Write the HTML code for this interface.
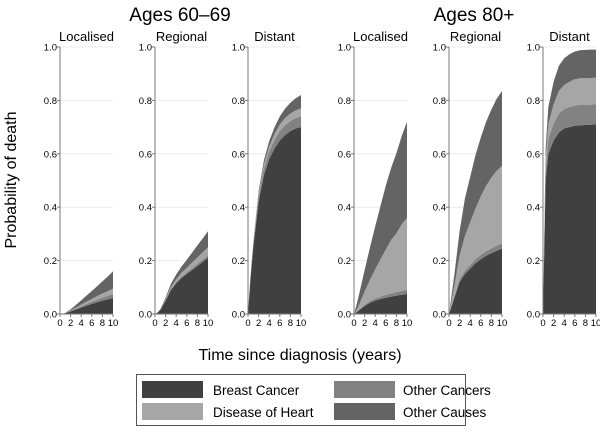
<!DOCTYPE html>
<html><head><meta charset="utf-8"><style>
body{margin:0;background:#fff;font-family:"Liberation Sans",Arial,sans-serif}
svg text{font-family:"Liberation Sans",Arial,sans-serif;fill:#000}
</style></head><body>
<svg id="chart" width="600" height="427" viewBox="0 0 600 427" xmlns="http://www.w3.org/2000/svg">
<text x="180" y="21" font-size="19" text-anchor="middle">Ages 60–69</text>
<text x="474" y="21" font-size="19" text-anchor="middle">Ages 80+</text>
<text transform="translate(16,180) rotate(-90)" font-size="16" text-anchor="middle">Probability of death</text>
<text x="300" y="360" font-size="16" text-anchor="middle">Time since diagnosis (years)</text>
<g id="panels"></g>
<g>
<rect x="136.5" y="374.5" width="329" height="51" fill="#fff" stroke="#555" stroke-width="1"/>
<rect x="142" y="381" width="61" height="17" fill="#404040"/>
<text x="213" y="395" font-size="13.5">Breast Cancer</text>
<rect x="142" y="403" width="61" height="17" fill="#a6a6a6"/>
<text x="213" y="417" font-size="13.5">Disease of Heart</text>
<rect x="334" y="381" width="61" height="17" fill="#828282"/>
<text x="403" y="395" font-size="13.5">Other Cancers</text>
<rect x="334" y="403" width="61" height="17" fill="#646464"/>
<text x="403" y="417" font-size="13.5">Other Causes</text>
</g>
</svg>
<script>
const times = [0,0.5,1,2,3,4,5,6,7,8,9,10];
const yTicks = [0,0.2,0.4,0.6,0.8,1.0];
const yTickLabels = ["0.0","0.2","0.4","0.6","0.8","1.0"];
const xTicks = [0,2,4,6,8,10];
const panelTitles = ["Localised","Regional","Distant","Localised","Regional","Distant"];
const breastCancer = [
 [0,0.001,0.003,0.01,0.017,0.024,0.031,0.038,0.044,0.05,0.055,0.06],
 [0,0.005,0.015,0.05,0.09,0.115,0.135,0.15,0.165,0.18,0.195,0.21],
 [0,0.14,0.25,0.42,0.52,0.58,0.62,0.65,0.67,0.685,0.695,0.70],
 [0,0.007,0.015,0.03,0.042,0.05,0.056,0.061,0.065,0.069,0.072,0.075],
 [0,0.03,0.06,0.12,0.15,0.17,0.19,0.205,0.218,0.228,0.237,0.245],
 [0,0.5,0.6,0.65,0.68,0.695,0.70,0.705,0.707,0.708,0.709,0.71]];
const otherCancers = [
 [0,0,0,0.002,0.003,0.005,0.007,0.008,0.01,0.012,0.013,0.015],
 [0,0,0,0.002,0.003,0.004,0.005,0.006,0.007,0.008,0.009,0.01],
 [0,0.005,0.01,0.02,0.025,0.03,0.032,0.035,0.037,0.038,0.039,0.04],
 [0,0.001,0.002,0.004,0.006,0.008,0.009,0.01,0.012,0.013,0.014,0.015],
 [0,0.003,0.005,0.01,0.012,0.014,0.015,0.016,0.017,0.018,0.019,0.02],
 [0,0.04,0.055,0.065,0.07,0.073,0.075,0.076,0.076,0.075,0.075,0.075]];
const diseaseOfHeart = [
 [0,0,0,0.002,0.004,0.006,0.008,0.01,0.013,0.015,0.017,0.02],
 [0,0,0.001,0.004,0.008,0.011,0.014,0.017,0.021,0.024,0.027,0.03],
 [0,0.002,0.005,0.01,0.015,0.018,0.022,0.025,0.027,0.028,0.029,0.03],
 [0,0.008,0.02,0.05,0.08,0.11,0.14,0.17,0.2,0.22,0.25,0.27],
 [0,0.02,0.04,0.09,0.13,0.16,0.19,0.22,0.245,0.265,0.28,0.29],
 [0,0.04,0.055,0.07,0.085,0.09,0.095,0.098,0.1,0.1,0.1,0.1]];
const otherCauses = [
 [0,0,0.001,0.004,0.01,0.016,0.023,0.03,0.037,0.045,0.055,0.065],
 [0,0.001,0.002,0.006,0.012,0.018,0.024,0.03,0.037,0.045,0.052,0.06],
 [0,0.003,0.005,0.01,0.015,0.02,0.025,0.03,0.035,0.04,0.045,0.05],
 [0,0.02,0.04,0.08,0.12,0.16,0.2,0.24,0.27,0.3,0.33,0.36],
 [0,0.02,0.04,0.09,0.14,0.17,0.2,0.22,0.24,0.255,0.27,0.28],
 [0,0.04,0.065,0.085,0.095,0.1,0.103,0.104,0.105,0.106,0.106,0.105]];

const layerNames=["breast-cancer","other-cancers","disease-of-heart","other-causes"];
const layerColors=["#404040","#828282","#a6a6a6","#646464"];
const panelLeft=[60,155,248,354,449,543];
const panelW=53, yTop=47, yBot=314;
const NS="http://www.w3.org/2000/svg";
const root=document.getElementById('panels');
function mk(t,attrs,parent){const e=document.createElementNS(NS,t);for(const k in attrs)e.setAttribute(k,attrs[k]);parent.appendChild(e);return e;}
function yScale(v){return yBot-(yBot-yTop)*v;}
panelLeft.forEach((x0,p)=>{
 const xScale=t=>x0+panelW*t/10;
 const g=mk('g',{},root);
 
 
 yTicks.forEach((v,i)=>{
  if(v>0){const gl=mk('line',{x1:x0,x2:x0+panelW,y1:yScale(v),y2:yScale(v),stroke:'#ececec','stroke-width':1},g);
   
   }
 });
 const layers=[breastCancer[p],otherCancers[p],diseaseOfHeart[p],otherCauses[p]];
 let base=times.map(()=>0);
 layers.forEach((vals,li)=>{
  const top=base.map((b,i)=>b+vals[i]);
  let d='M'+times.map((t,i)=>xScale(t)+','+yScale(top[i])).join('L');
  for(let i=times.length-1;i>=0;i--)d+='L'+xScale(times[i])+','+yScale(base[i]);
  d+='Z';
  const path=mk('path',{d:d,fill:layerColors[li]},g);
  
  
  base=top;
 });
 const ax=mk('line',{x1:x0,x2:x0,y1:yTop,y2:yBot,stroke:'#777','stroke-width':1},g);
 
 
 const bx=mk('line',{x1:x0,x2:x0+panelW,y1:yBot,y2:yBot,stroke:'#777','stroke-width':1},g);
 
 
 yTicks.forEach((v,i)=>{
  const tk=mk('line',{x1:x0-3,x2:x0,y1:yScale(v),y2:yScale(v),stroke:'#777'},g);
  
  
  const tl=mk('text',{x:x0-3,y:yScale(v)+3.5,'font-size':9.5,'text-anchor':'end'},g);
  tl.textContent=yTickLabels[i];
  
  
 });
 xTicks.forEach(v=>{
  const tk=mk('line',{x1:xScale(v),x2:xScale(v),y1:yBot,y2:yBot+3,stroke:'#777'},g);
  
  
  const tl=mk('text',{x:xScale(v),y:yBot+12,'font-size':9.5,'text-anchor':'middle'},g);
  tl.textContent=String(v);
  
  
 });
 const tt=mk('text',{x:x0+panelW/2,y:41,'font-size':13,'text-anchor':'middle'},g);
 tt.textContent=panelTitles[p];
 
 
});
</script>
</body></html>
